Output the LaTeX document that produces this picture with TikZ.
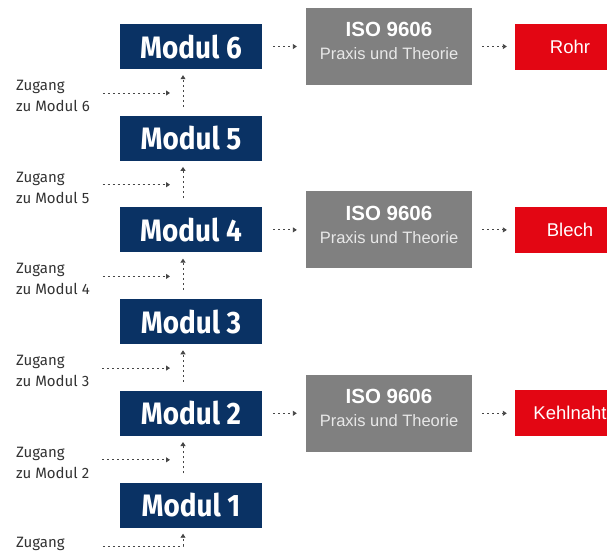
\documentclass[tikz,border=0pt]{standalone}
\usepackage{fontspec}
\setmainfont{Liberation Sans}
\newfontfamily\modfont{Fira Sans}[FakeStretch=0.9]
\newfontfamily\zugfont{Fira Sans}
\usetikzlibrary{arrows.meta}
\definecolor{modblau}{RGB}{10,50,100}
\definecolor{isograu}{RGB}{128,128,128}
\definecolor{isotext}{RGB}{232,232,232}
\definecolor{pruefrot}{RGB}{227,6,19}
\definecolor{pfeilgrau}{RGB}{70,70,70}
\begin{document}
\begin{tikzpicture}[x=1pt,y=-1pt,
  modul/.style={fill=modblau,minimum width=142pt,minimum height=45pt,inner sep=0pt,
    text=white,font=\modfont\bfseries\fontsize{31}{31}\selectfont},
  iso/.style={fill=isograu,minimum width=166pt,minimum height=77pt,inner sep=0pt,
    align=center,text=white,font=\fontsize{16.5}{22}\selectfont},
  ziel/.style={fill=pruefrot,minimum width=110pt,minimum height=46pt,inner sep=0pt,
    text=white,font=\fontsize{18.5}{18}\selectfont},
  zugang/.style={anchor=west,inner sep=0pt,align=left,text=black!80,
    font=\zugfont\fontsize{15}{21}\selectfont},
  pfeil/.style={draw=pfeilgrau,line width=0.9pt,dash pattern=on 2pt off 3pt,
    -{Triangle[length=4pt,width=5pt]}}]
\useasboundingbox (0,0) rectangle (607,550);
% Module 1 bis 6
\foreach \k in {1,...,6}
  \node[modul] (m\k) at (191,{505-(\k-1)*91.7}) {Modul \k};
% Pruefung und Ziel
\foreach \k/\t in {2/Kehlnaht,4/Blech,6/Rohr}{
  \node[iso] (i\k) at (389,{505-(\k-1)*91.7})
    {{\bfseries\fontsize{20.5}{22}\selectfont ISO 9606}\\[1pt]%
     {\color{isotext}Praxis und Theorie}\rule[-11pt]{0pt}{0pt}};
  \node[ziel] (r\k) at (570,{505-(\k-1)*91.7}) {\t};
  \draw[pfeil,shorten <=11pt,shorten >=9pt] (m\k) -- (i\k);
  \draw[pfeil,shorten <=10pt,shorten >=8pt] (i\k) -- (r\k);
}
% Zugang
\foreach \k in {2,...,6}{
  \pgfmathtruncatemacro\j{\k-1}
  \node[zugang] (z\k) at (16,{505-(\k-1)*91.7+49.4}) {Zugang\\zu Modul \k};
  \coordinate (e\k) at (170,{505-(\k-1)*91.7+46.5});
  \draw[pfeil,shorten <=13pt] (z\k.east |- e\k) -- (e\k);
  \draw[pfeil,shorten <=9pt,shorten >=6pt] ([xshift=-8pt]m\j.north) -- ([xshift=-8pt]m\k.south);
}
\node[zugang] (z1) at (16,543.5) {Zugang};
\draw[pfeil,shorten <=38pt,shorten >=6pt] ([yshift=-2.5pt]z1.east) -| ([xshift=-8pt]m1.south);
\end{tikzpicture}
\end{document}
